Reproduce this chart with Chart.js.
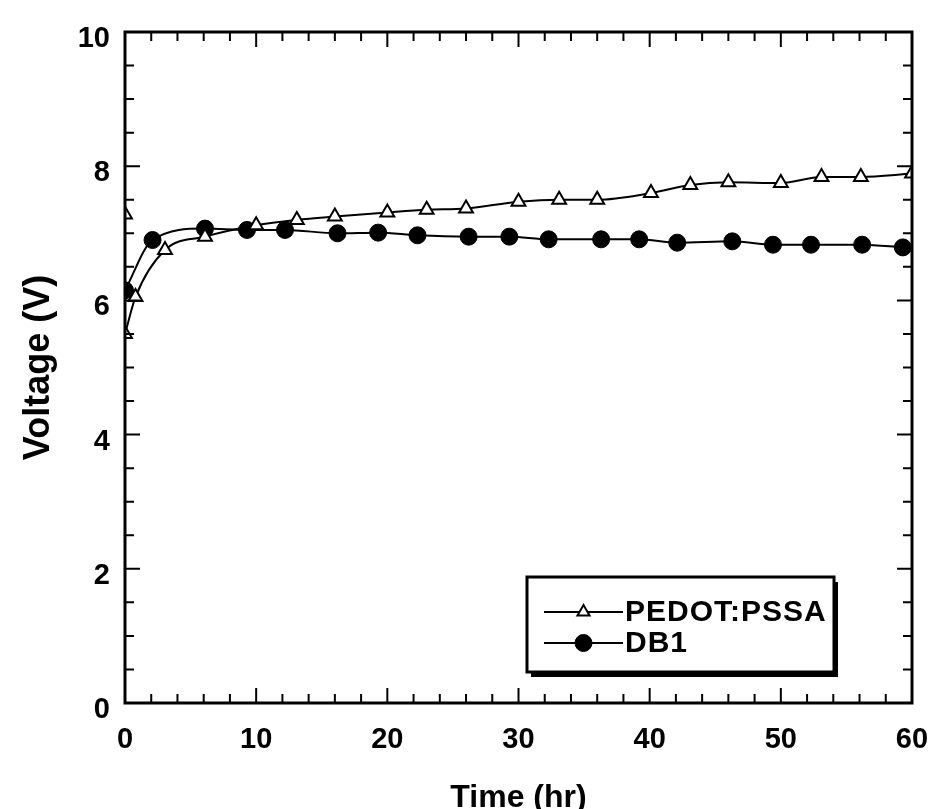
<!DOCTYPE html>
<html>
<head>
<meta charset="utf-8">
<title>Voltage vs Time</title>
<script src="https://cdn.jsdelivr.net/npm/chart.js@4.4.1/dist/chart.umd.min.js"></script>
<style>
  html, body { margin: 0; padding: 0; background: #fff; }
  canvas { display: block; }
</style>
</head>
<body>
<canvas id="voltChart" width="933" height="809"></canvas>
<script>
// PEDOT:PSSA run - first reading at t=0 stands alone (null breaks the line)
const pedotTime  = [0, 0, 0, 0.8, 3.05, 6.1, 10.0, 13.1, 16.0, 20.0, 23.0, 26.0, 30.0, 33.1, 36.0, 40.1, 43.1, 46.0, 50.0, 53.1, 56.1, 60.0];
const pedotVolts = [7.28, null, 5.5, 6.05, 6.75, 6.95, 7.12, 7.2, 7.25, 7.31, 7.35, 7.37, 7.47, 7.5, 7.5, 7.6, 7.72, 7.76, 7.75, 7.84, 7.84, 7.89];

// DB1 run
const db1Time  = [0, 2.1, 6.1, 9.3, 12.2, 16.2, 19.3, 22.3, 26.2, 29.3, 32.3, 36.3, 39.2, 42.1, 46.3, 49.4, 52.3, 56.2, 59.3];
const db1Volts = [6.15, 6.9, 7.07, 7.05, 7.05, 7.0, 7.01, 6.97, 6.95, 6.95, 6.91, 6.91, 6.91, 6.86, 6.88, 6.83, 6.83, 6.83, 6.79];

const xTicks = [0, 10, 20, 30, 40, 50, 60];
const yTicks = [0, 2, 4, 6, 8, 10];
const xMinorStep = 2;
const yMinorStep = 0.5;

const FONT = '"Liberation Sans", Arial, Helvetica, sans-serif';

function toPoints(xs, ys) {
  return xs.map((x, i) => ({ x: x, y: ys[i] }));
}

// box around the plot with inward ticks on all four sides
const frameTicks = {
  id: 'frameTicks',
  afterDatasetsDraw(chart) {
    const { ctx, chartArea: a, scales: { x, y } } = chart;
    ctx.save();
    ctx.strokeStyle = '#000';
    ctx.lineWidth = 2;
    ctx.beginPath();
    for (let v = x.min; v <= x.max; v += xMinorStep) {
      const px = x.getPixelForValue(v);
      const len = xTicks.includes(v) ? 15 : 9;
      ctx.moveTo(px, a.bottom); ctx.lineTo(px, a.bottom - len);
      ctx.moveTo(px, a.top); ctx.lineTo(px, a.top + len);
    }
    for (let v = y.min; v <= y.max; v += yMinorStep) {
      const py = y.getPixelForValue(v);
      const len = yTicks.includes(v) ? 15 : 9;
      ctx.moveTo(a.left, py); ctx.lineTo(a.left + len, py);
      ctx.moveTo(a.right, py); ctx.lineTo(a.right - len, py);
    }
    ctx.stroke();
    ctx.lineWidth = 3;
    ctx.strokeRect(a.left, a.top, a.right - a.left, a.bottom - a.top);
    ctx.restore();
  }
};

// boxed legend in the lower right corner of the plot
const boxLegend = {
  id: 'boxLegend',
  afterDraw(chart) {
    const { ctx, chartArea: a } = chart;
    const w = 307, h = 95;
    const left = a.right - 385, top = a.bottom - 126;
    ctx.save();
    ctx.fillStyle = '#000';
    ctx.fillRect(left + 4, top + 5, w, h);
    ctx.fillStyle = '#fff';
    ctx.fillRect(left, top, w, h);
    ctx.strokeStyle = '#000';
    ctx.lineWidth = 3;
    ctx.strokeRect(left, top, w, h);

    chart.data.datasets.forEach((ds, i) => {
      const yy = top + 35 + i * 31;
      const x0 = left + 17, x1 = left + 96;
      ctx.strokeStyle = '#000';
      ctx.lineWidth = ds.borderWidth;
      ctx.beginPath();
      ctx.moveTo(x0, yy); ctx.lineTo(x1, yy);
      ctx.stroke();
      ctx.fillStyle = ds.pointBackgroundColor;
      ctx.lineWidth = ds.pointBorderWidth;
      Chart.helpers.drawPoint(ctx, {
        pointStyle: ds.pointStyle,
        radius: ds.legendRadius,
        rotation: 0,
        borderWidth: ds.pointBorderWidth
      }, (x0 + x1) / 2, yy);
      ctx.fillStyle = '#000';
      ctx.font = 'bold 30px ' + FONT;
      ctx.letterSpacing = '1px';
      ctx.textAlign = 'left';
      ctx.textBaseline = 'middle';
      ctx.fillText(ds.label, x1 + 2, yy + 1);
      ctx.letterSpacing = '0px';
    });
    ctx.restore();
  }
};

const tickFont = { family: FONT, size: 29, weight: 'bold' };

new Chart(document.getElementById('voltChart'), {
  type: 'line',
  data: {
    datasets: [
      {
        label: 'PEDOT:PSSA',
        data: toPoints(pedotTime, pedotVolts),
        borderColor: '#000',
        borderWidth: 2,
        pointStyle: 'triangle',
        pointRadius: 8,
        legendRadius: 7,
        pointBackgroundColor: '#fff',
        pointBorderColor: '#000',
        pointBorderWidth: 2,
        cubicInterpolationMode: 'monotone',
        spanGaps: false,
        fill: false
      },
      {
        label: 'DB1',
        data: toPoints(db1Time, db1Volts),
        borderColor: '#000',
        borderWidth: 2,
        pointStyle: 'circle',
        pointRadius: 8.5,
        legendRadius: 8.5,
        pointBackgroundColor: '#000',
        pointBorderColor: '#000',
        pointBorderWidth: 1,
        cubicInterpolationMode: 'monotone',
        fill: false
      }
    ]
  },
  options: {
    responsive: false,
    animation: false,
    devicePixelRatio: 1,
    layout: { padding: { top: 32, right: 21, left: 0, bottom: 0 } },
    plugins: {
      legend: { display: false },
      tooltip: { enabled: false }
    },
    scales: {
      x: {
        type: 'linear',
        min: 0,
        max: 60,
        afterBuildTicks: s => { s.ticks = xTicks.map(v => ({ value: v })); },
        afterFit: s => { s.height = 106; s.paddingLeft = 0; s.paddingRight = 0; },
        grid: { display: false, drawTicks: false },
        border: { display: false },
        ticks: { color: '#000', font: tickFont, padding: 20, maxRotation: 0, autoSkip: false },
        title: {
          display: true, text: 'Time (hr)', color: '#000',
          font: { family: FONT, size: 32, weight: 'bold', lineHeight: 0.7 },
          padding: { top: 0, bottom: 0 }
        }
      },
      y: {
        type: 'linear',
        min: 0,
        max: 10,
        afterBuildTicks: s => { s.ticks = yTicks.map(v => ({ value: v })); },
        afterFit: s => { s.width = 125; s.paddingTop = 0; s.paddingBottom = 0; },
        grid: { display: false, drawTicks: false },
        border: { display: false },
        ticks: { color: '#000', font: tickFont, padding: 15, labelOffset: 7, autoSkip: false },
        title: {
          display: true, text: 'Voltage (V)', color: '#000',
          font: { family: FONT, size: 36, weight: 'bold', lineHeight: 1 },
          padding: { top: 21, bottom: 0 }
        }
      }
    }
  },
  plugins: [frameTicks, boxLegend]
});
</script>
</body>
</html>
